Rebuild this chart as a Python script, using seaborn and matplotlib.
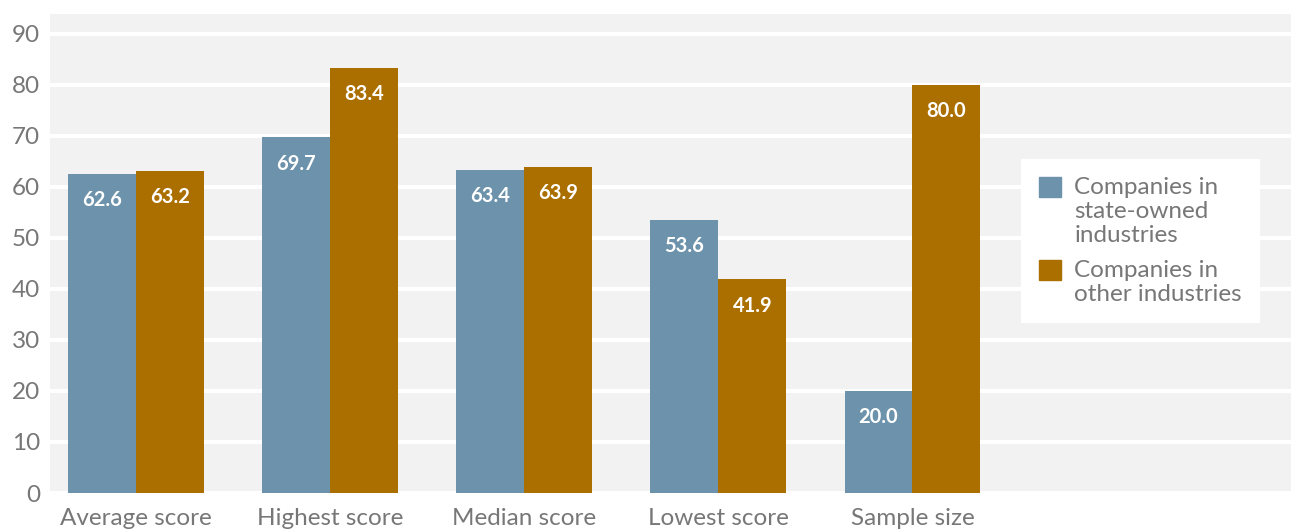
import matplotlib
matplotlib.use("Agg")
import matplotlib.pyplot as plt
import seaborn as sns
import pandas as pd

# Chart data
categories = ["Average score", "Highest score", "Median score", "Lowest score", "Sample size"]
state_owned = [62.6, 69.7, 63.4, 53.6, 20.0]
other = [63.2, 83.4, 63.9, 41.9, 80.0]
series_names = ["Companies in\nstate-owned\nindustries", "Companies in\nother industries"]
y_ticks = [0, 10, 20, 30, 40, 50, 60, 70, 80, 90]

colors = ["#6d92ab", "#ab6f00"]
text_grey = "#777777"

df = pd.DataFrame({
    "category": categories * 2,
    "value": state_owned + other,
    "series": [series_names[0]] * len(categories) + [series_names[1]] * len(categories),
})

sns.set_theme(style="white")
plt.rcParams["font.family"] = ["Lato", "DejaVu Sans"]

W, H = 1291, 531
fig = plt.figure(figsize=(W / 100, H / 100), dpi=100)
ax = fig.add_axes([50 / W, (H - 493) / H, (W - 50) / W, (493 - 14) / H])
ax.set_facecolor("#f2f2f2")

sns.barplot(data=df, x="category", y="value", hue="series", order=categories,
            hue_order=series_names, palette=colors, width=0.7, gap=0,
            saturation=1, ax=ax, legend=False, linewidth=0, zorder=3)

ax.set_xlim(-0.443, 5.95)
ax.set_ylim(0, 93.9)
ax.set_yticks(y_ticks)
ax.yaxis.grid(True, color="white", linewidth=2.9, zorder=1)
ax.set_axisbelow(True)
for s in ax.spines.values():
    s.set_visible(False)
ax.set_xlabel("")
ax.set_ylabel("")
ax.tick_params(axis="both", length=0, labelcolor=text_grey)
ax.tick_params(axis="y", pad=7, labelsize=17.5)
ax.tick_params(axis="x", pad=11, labelsize=17.5)

# Value labels inside the bar tops
for container in ax.containers:
    for bar, val in zip(container, container.datavalues):
        ax.annotate(f"{val:.1f}", (bar.get_x() + bar.get_width() / 2, bar.get_height()),
                    xytext=(0, -19), textcoords="offset points", ha="center", va="center",
                    color="white", fontsize=14.5, fontweight="bold", zorder=4)

handles = [plt.Rectangle((0, 0), 1, 1, color=c) for c in colors]
leg = ax.legend(handles, series_names, loc="upper left",
                bbox_to_anchor=(1021 / W, (H - 159) / H), bbox_transform=fig.transFigure,
                frameon=True, fancybox=False, framealpha=1, edgecolor="white",
                facecolor="white", fontsize=17.5, handlelength=0.9, handleheight=0.9,
                handletextpad=0.55, labelspacing=0.6, borderpad=0.75, borderaxespad=0)
for t in leg.get_texts():
    t.set_color(text_grey)
    t.set_linespacing(1.16)
leg.get_frame().set_linewidth(0)
# keep each swatch level with the first line of its label
for column in leg._legend_handle_box.get_children():
    for item in column.get_children():
        item.align = "top"

fig.savefig("out.png", dpi=100)
